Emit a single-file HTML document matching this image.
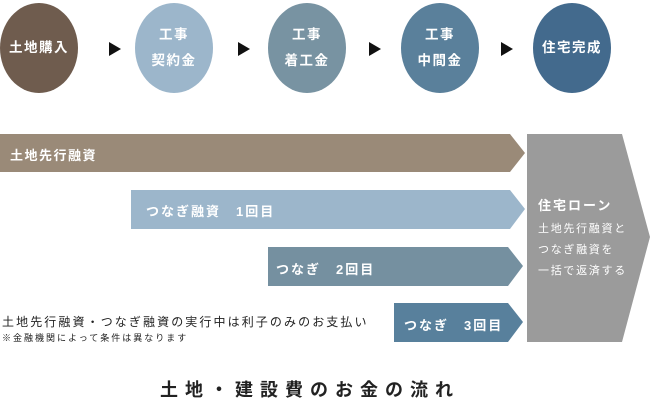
<!DOCTYPE html>
<html><head><meta charset="utf-8"><style>
body{margin:0;width:650px;height:412px;background:#fff;position:relative;overflow:hidden;font-family:"Liberation Sans","Noto Sans CJK JP",sans-serif;}
.c{position:absolute;width:78px;height:90px;border-radius:50%;color:#fff;font-weight:bold;font-size:13.5px;display:flex;align-items:center;justify-content:center;text-align:center;line-height:26px;letter-spacing:1.5px;top:3px}
.t{position:absolute;top:42px;width:0;height:0;border-top:7px solid transparent;border-bottom:7px solid transparent;border-left:12px solid #111}
.txt{position:absolute;color:#fff;font-weight:bold;letter-spacing:2px;white-space:nowrap}
</style></head><body>
<div class="c" style="left:0;background:#6f5c4e">土地購入</div>
<div class="t" style="left:109px"></div>
<div class="c" style="left:135px;background:#9cb6cb">工事<br>契約金</div>
<div class="t" style="left:238px"></div>
<div class="c" style="left:268px;background:#7893a2">工事<br>着工金</div>
<div class="t" style="left:369px"></div>
<div class="c" style="left:401px;background:#5a809b">工事<br>中間金</div>
<div class="t" style="left:501px"></div>
<div class="c" style="left:533px;background:#436a8d">住宅完成</div>

<svg width="650" height="412" style="position:absolute;left:0;top:0">
<polygon points="0,134 510,134 525,153 510,172 0,172" fill="#9a8a78"/>
<polygon points="131,190 510,190 525,209 510,229 131,229" fill="#9cb6cb"/>
<polygon points="268,247 508,247 523,266 508,286 268,286" fill="#7590a0"/>
<polygon points="394,303 508,303 523,322 508,342 394,342" fill="#58809c"/>
<polygon points="527,134 622,134 650,237 622,342 527,342" fill="#9b9b9b"/>
</svg>
<div class="txt" style="left:10px;top:145px;font-size:13px;letter-spacing:1.5px">土地先行融資</div>
<div class="txt" style="left:146px;top:201px;font-size:13px">つなぎ融資　1回目</div>
<div class="txt" style="left:276px;top:259px;font-size:13px">つなぎ　2回目</div>
<div class="txt" style="left:404px;top:315px;font-size:13px">つなぎ　3回目</div>
<div class="txt" style="left:538px;top:195px;font-size:13px">住宅ローン</div>
<div class="txt" style="left:538px;top:219px;font-size:11px;font-weight:normal;line-height:21px;letter-spacing:1.7px">土地先行融資と<br>つなぎ融資を<br>一括で返済する</div>
<div style="position:absolute;left:2px;top:313px;font-size:12px;color:#222;letter-spacing:2.1px;white-space:nowrap">土地先行融資・つなぎ融資の実行中は利子のみのお支払い</div>
<div style="position:absolute;left:2px;top:331px;font-size:9px;color:#222;letter-spacing:2px;white-space:nowrap">※金融機関によって条件は異なります</div>
<div style="position:absolute;left:160px;top:376px;font-size:18px;font-weight:bold;color:#222;letter-spacing:7px;white-space:nowrap">土地・建設費のお金の流れ</div>
</body></html>
